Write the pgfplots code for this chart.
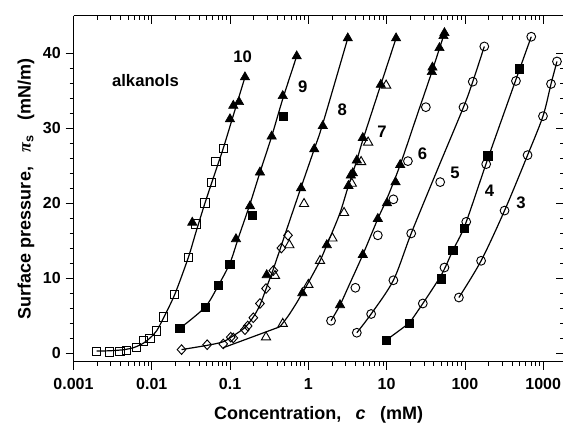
\documentclass[border=0pt]{standalone}
\usepackage{pgfplots}
\pgfplotsset{compat=1.18}
\usepackage{fontspec}
\setmainfont{Liberation Sans}
\newfontfamily\pifont{Liberation Serif}
\pgfplotsset{
  mybase/.style={
    scale only axis, width=367.5pt, height=259.5pt,
    xmin=0.001, xmax=1834, ymin=-1.2, ymax=45,
    xtick={0.001,0.01,0.1,1,10,100,1000},
    minor xtick={0.002,0.003,0.004,0.005,0.006,0.007,0.008,0.009,0.02,0.03,0.04,0.05,0.06,0.07,0.08,0.09,0.2,0.3,0.4,0.5,0.6,0.7,0.8,0.9,2,3,4,5,6,7,8,9,20,30,40,50,60,70,80,90,200,300,400,500,600,700,800,900},
    ytick={0,10,20,30,40}, minor y tick num=4,
    major tick length=6pt, minor tick length=3pt,
    tick style={black, line width=0.6pt},
    axis line style={black, line width=0.75pt},
    clip=false,
  },
  mycurve/.style={black, line width=0.9pt, no marks},
  ftri/.style={only marks, mark=triangle*, mark size=4pt, black, mark options={fill=black, line width=0.5pt}},
  otri/.style={only marks, mark=triangle, mark size=4pt, black, mark options={line width=0.7pt}},
  fsq/.style={only marks, mark=square*, mark size=3.1pt, black, mark options={fill=black, line width=0.5pt}},
  osq/.style={only marks, mark=square, mark size=3.1pt, black, mark options={line width=0.7pt}},
  ocirc/.style={only marks, mark=o, mark size=3.3pt, black, mark options={line width=0.7pt}},
  odia/.style={only marks, mark=diamond, mark size=3.6pt, black, mark options={line width=0.7pt, xscale=1.2}},
}
\begin{document}
\begin{tikzpicture}
% top / right frame with inward ticks
\begin{semilogxaxis}[mybase, axis x line*=top, axis y line*=right, tick align=inside,
  xticklabels={}, yticklabels={}]
\addplot[draw=none, forget plot] coordinates {(1,0)};
\end{semilogxaxis}
\begin{semilogxaxis}[mybase, axis x line*=bottom, axis y line*=left, tick align=outside,
  xticklabels={0.001,0.01,0.1,1,10,100,1000},
  /pgf/number format/assume math mode=true,
  ticklabel style={font=\bfseries\fontsize{12}{14}\selectfont},
  xticklabel style={yshift=-3pt},
  xlabel={Concentration,\hspace{0.8em}\textit{c}\hspace{0.8em}(mM)},
  ylabel={Surface pressure,\hspace{0.8em}{\pifont\bfseries\itshape π}\textsubscript{s}\hspace{0.8em}(mN/m)},
  label style={font=\bfseries\fontsize{13.5}{15}\selectfont},
  xlabel style={at={(axis description cs:0.5,-0.153)}, anchor=center},
  ylabel style={at={(axis description cs:-0.097,0.5)}, anchor=center},
]
\coordinate (sw) at (rel axis cs:0,0);
\coordinate (ne) at (rel axis cs:1,1);

% ---- series 10
\addplot[mycurve, smooth] coordinates {(0.00197,0.25)(0.003,0.3)(0.0045,0.45)(0.006,0.75)(0.0078,1.3)(0.0095,2.0)(0.0115,2.94)(0.014,4.6)(0.0197,7.84)(0.0292,12.7)(0.0366,16.1)(0.0478,20.0)(0.066,24.4)(0.0818,27.3)(0.11,31.7)(0.155,36.8)};
\addplot[osq] coordinates {(0.00197,0.19)(0.00291,0.13)(0.00391,0.19)(0.00476,0.36)(0.0064,0.72)(0.00777,1.6)(0.00946,1.92)(0.0115,2.94)(0.014,4.81)(0.0197,7.84)(0.0292,12.7)(0.0366,17.2)(0.0478,20.0)(0.0582,22.8)(0.066,25.6)(0.0818,27.3)};
\addplot[ftri] coordinates {(0.0329,17.4)(0.0997,31.2)(0.110,33.0)(0.130,33.5)(0.155,36.8)};

% ---- series 9
\addplot[mycurve, smooth] coordinates {(0.0229,3.3)(0.0478,6.1)(0.0707,9.0)(0.0997,12.0)(0.13,15.6)(0.18,19.9)(0.241,24.1)(0.34,28.9)(0.471,33.9)(0.71,39.6)};
\addplot[ftri] coordinates {(0.119,15.2)(0.180,19.6)(0.241,24.1)(0.340,28.9)(0.471,34.3)(0.710,39.6)};
\addplot[fsq] coordinates {(0.0229,3.3)(0.0478,6.1)(0.0707,9.0)(0.0997,11.8)(0.192,18.4)(0.479,31.6)};

% ---- series 8
\addplot[mycurve, smooth] coordinates {(0.024,0.45)(0.053,1.05)(0.0818,1.5)(0.11,2.3)(0.155,3.4)(0.198,4.8)(0.241,6.4)(0.294,8.8)(0.357,11.2)(0.434,13.8)(0.55,17.0)(0.783,21.7)(1.19,27.2)(1.53,30.6)(3.19,42.0)};
\addplot[ftri] coordinates {(0.294,10.4)(0.807,22.0)(1.19,27.2)(1.53,30.3)(3.19,42.0)};
\addplot[otri] coordinates {(0.375,10.3)(0.572,14.4)(0.881,19.9)};
\addplot[odia] coordinates {(0.024,0.45)(0.051,1.1)(0.0818,1.2)(0.102,2.1)(0.110,2.0)(0.155,3.1)(0.168,3.6)(0.198,4.7)(0.241,6.6)(0.288,8.6)(0.357,11.0)(0.452,14.0)(0.55,15.7)};

% ---- series 7
\addplot[mycurve] coordinates {(0.0818,0.7)(0.434,3.5)};
\addplot[mycurve, smooth] coordinates {(0.434,3.5)(0.55,4.9)(0.7,6.6)(0.838,8.0)(1.0,9.4)(1.41,12.3)(1.72,14.4)(2.5,18.5)(3.25,22.3)(4.16,25.7)(4.96,28.4)(8.43,35.8)(13.2,42.0)};
\addplot[ftri] coordinates {(0.838,8.0)(1.72,14.4)(3.25,22.3)(3.49,23.7)(3.70,24.0)(4.16,25.7)(4.96,28.7)(8.43,35.8)(13.2,42.0)};
\addplot[otri] coordinates {(0.288,2.1)(0.471,3.9)(1.0,9.1)(1.41,12.3)(2.03,15.3)(2.86,18.7)(3.59,22.6)(4.72,25.5)(5.80,28.1)(9.86,35.7)};

% ---- series 6
\addplot[mycurve, smooth] coordinates {(1.95,4.3)(2.54,6.4)(3.3,9.0)(4.96,13.1)(7.72,17.9)(10.1,20.6)(14.9,25.1)(25,32.0)(37.8,37.5)(54.8,42.7)};
\addplot[ftri] coordinates {(2.54,6.4)(4.96,13.1)(7.72,17.9)(10.1,20.0)(13.0,22.8)(14.9,25.1)(37.8,37.5)(38.5,38.1)(47.3,40.7)(53.2,42.3)(54.8,42.7)};
\addplot[ocirc] coordinates {(1.95,4.3)(3.99,8.7)(7.72,15.7)(12.2,20.5)(18.7,25.6)(31.7,32.8)};

% ---- series 5
\addplot[mycurve, smooth] coordinates {(4.16,2.7)(6.34,5.2)(12.2,9.7)(20.6,15.95)(44.3,24.4)(95.9,32.8)(126,36.2)(177,40.9)};
\addplot[ocirc] coordinates {(4.16,2.7)(6.34,5.2)(12.2,9.7)(20.6,15.95)(48.3,22.8)(95.9,32.8)(126,36.2)(177,40.9)};

% ---- series 4
\addplot[mycurve] coordinates {(9.86,1.7)(19.6,4.0)};
\addplot[mycurve, smooth] coordinates {(19.6,4.0)(29,6.6)(50.5,10.5)(70.2,13.7)(100.7,17.1)(193,25.7)(467,37.0)(704,42.2)};
\addplot[ocirc] coordinates {(29,6.6)(54.8,11.4)(104,17.5)(187,25.2)(449,36.3)(704,42.2)};
\addplot[fsq] coordinates {(9.86,1.7)(19.6,4.0)(49.8,9.9)(70.2,13.7)(98.9,16.6)(197,26.3)(495,37.9)};

% ---- series 3
\addplot[mycurve, smooth] coordinates {(83.8,7.4)(161,12.3)(321,19.0)(632,26.4)(994,31.6)(1259,35.9)(1500,38.9)};
\addplot[ocirc] coordinates {(83.8,7.4)(161,12.3)(321,19.0)(632,26.4)(994,31.6)(1259,35.9)(1500,38.9)};

% ---- labels
\begin{scope}[every node/.style={font=\bfseries\fontsize{12.5}{14}\selectfont}]
\node at (axis cs:0.0083,36.4) {alkanols};
\node at (axis cs:0.145,39.5) {10};
\node at (axis cs:0.848,35.5) {9};
\node at (axis cs:2.72,32.4) {8};
\node at (axis cs:8.7,29.5) {7};
\node at (axis cs:28.7,26.6) {6};
\node at (axis cs:74.5,24.1) {5};
\node at (axis cs:206,21.7) {4};
\node at (axis cs:520,20.0) {3};
\end{scope}
\end{semilogxaxis}
\pgfresetboundingbox
\useasboundingbox ([xshift=-55.1pt,yshift=-48.2pt]sw) rectangle ([xshift=-0.6pt,yshift=11.8pt]ne);
\end{tikzpicture}
\end{document}
